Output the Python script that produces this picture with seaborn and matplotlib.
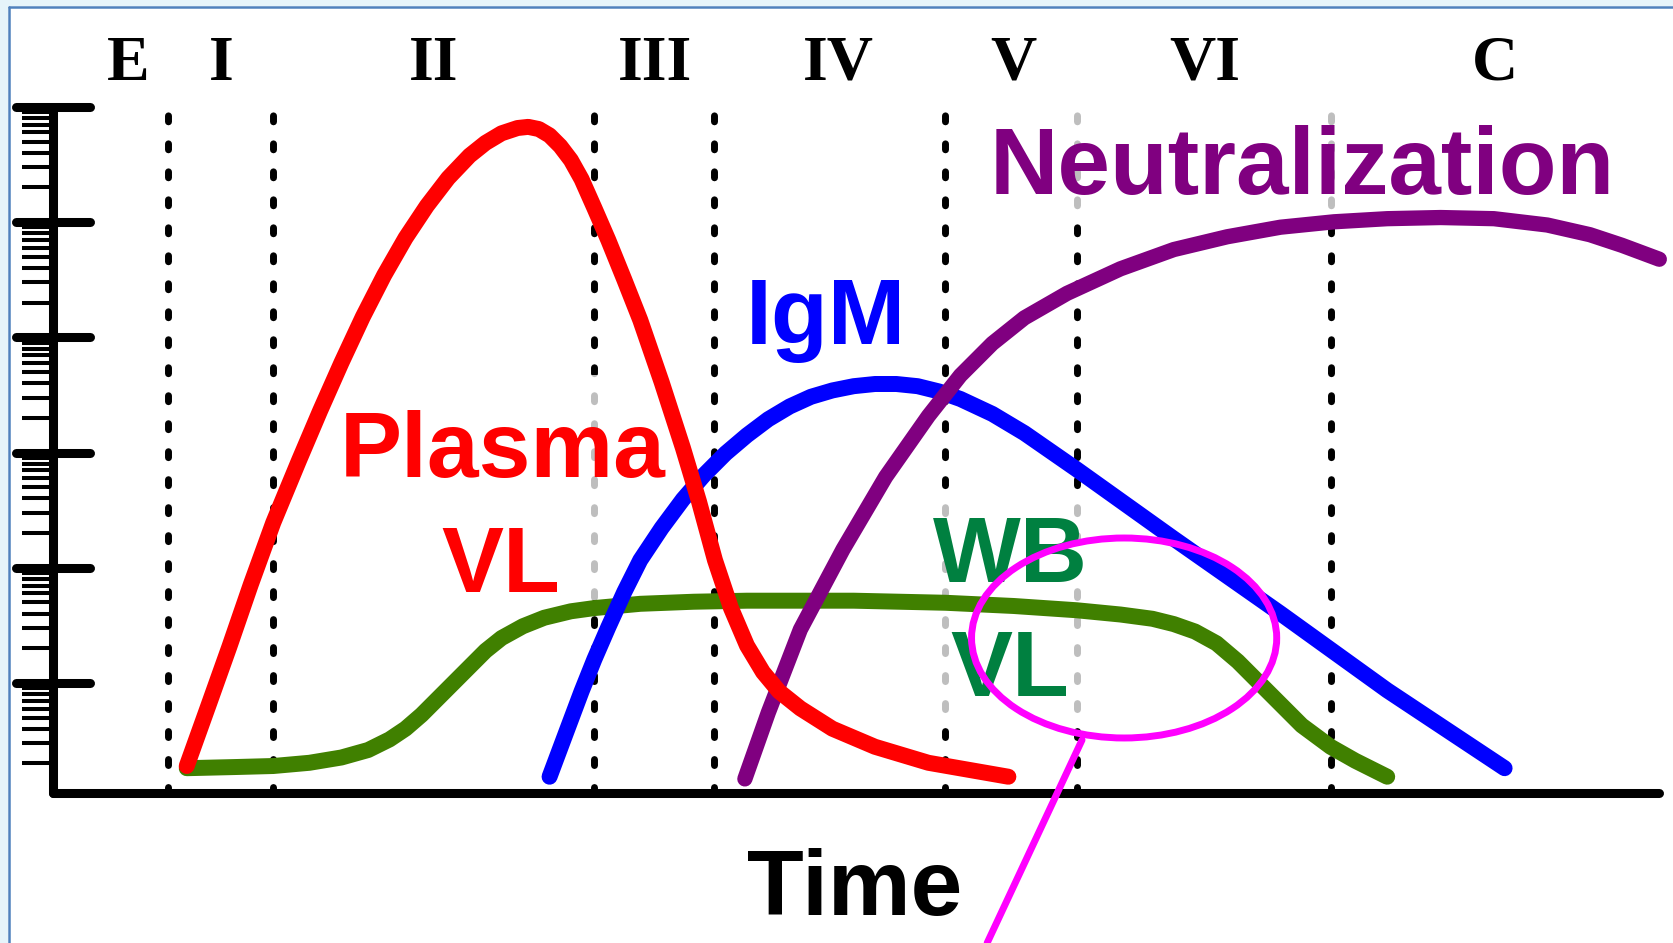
import numpy as np
import pandas as pd
import matplotlib
matplotlib.use("Agg")
import matplotlib.pyplot as plt
import seaborn as sns
from matplotlib.patches import Ellipse, Rectangle
from matplotlib.lines import Line2D
from matplotlib.ticker import LogLocator, NullFormatter
from matplotlib.markers import MarkerStyle
import matplotlib.transforms as mtransforms

# ---- marker kinetics over time (arbitrary time units, log10 of level) ----
plasma_t = [13.37, 15.51, 17.64, 19.77, 22.02, 24.58, 26.71, 28.84, 30.98, 33.11,
            35.25, 37.38, 39.51, 41.65, 43.25, 44.85, 46.45, 47.52, 48.58, 49.65,
            50.72, 51.78, 52.85, 54.13, 55.52, 57.12, 58.72, 60.85, 62.99, 64.59,
            66.19, 67.79, 69.39, 70.99, 72.59, 74.73, 77.93, 82.19, 87.53, 95.53]
plasma_log = [0.279, 0.797, 1.316, 1.853, 2.391, 2.928, 3.363, 3.780, 4.178, 4.539,
              4.863, 5.141, 5.382, 5.577, 5.688, 5.771, 5.817, 5.827, 5.808, 5.753,
              5.660, 5.539, 5.373, 5.123, 4.845, 4.502, 4.150, 3.613, 3.039, 2.576,
              2.066, 1.650, 1.325, 1.094, 0.927, 0.779, 0.603, 0.446, 0.307, 0.186]

igm_t = [49.65, 51.25, 52.85, 54.13, 55.52, 57.12, 58.72, 60.85, 62.99, 65.12,
         67.26, 69.39, 71.52, 73.66, 75.79, 77.93, 80.06, 82.19, 84.33, 86.46,
         88.60, 90.73, 93.93, 97.13, 102.36, 112.07, 122.74, 133.41, 145.15]
igm_log = [0.186, 0.557, 0.927, 1.205, 1.483, 1.789, 2.066, 2.344, 2.594, 2.807,
           2.993, 3.150, 3.289, 3.400, 3.484, 3.539, 3.576, 3.595, 3.595, 3.576,
           3.530, 3.465, 3.335, 3.169, 2.854, 2.252, 1.603, 0.936, 0.260]

neut_t = [69.18, 71.52, 74.73, 78.99, 83.26, 87.53, 90.73, 93.93, 97.13, 101.4,
          106.74, 112.07, 117.41, 122.74, 128.08, 133.41, 138.75, 144.08, 149.42,
          153.68, 156.88, 160.62]
neut_log = [0.167, 0.742, 1.464, 2.159, 2.789, 3.317, 3.669, 3.947, 4.169, 4.382,
            4.595, 4.762, 4.873, 4.956, 5.003, 5.030, 5.040, 5.030, 4.975,
            4.891, 4.799, 4.678]

wb_t = [13.37, 18.17, 22.02, 25.64, 28.84, 31.51, 33.65, 35.25, 36.85, 38.45,
        40.05, 41.65, 43.25, 44.85, 46.98, 49.12, 51.78, 54.13, 58.72, 64.06,
        69.39, 80.06, 89.24, 96.07, 102.36, 106.74, 109.94, 112.07, 114.20, 116.34,
        118.47, 120.61, 122.74, 124.87, 127.75, 130.21, 133.41]
wb_log = [0.260, 0.270, 0.279, 0.307, 0.353, 0.418, 0.510, 0.603, 0.723, 0.862,
          1.001, 1.140, 1.279, 1.390, 1.492, 1.566, 1.622, 1.650, 1.687, 1.705,
          1.714, 1.714, 1.696, 1.668, 1.631, 1.594, 1.557, 1.511, 1.446, 1.344,
          1.187, 1.001, 0.816, 0.631, 0.446, 0.325, 0.186]

# ---- infection stages ----
stage_names = ["E", "I", "II", "III", "IV", "V", "VI", "C"]
stage_label_t = [7.5, 16.8, 38.1, 60.2, 78.5, 96.0, 115.2, 144.2]
stage_bounds = [11.5, 22.0, 54.1, 66.1, 89.2, 102.4, 127.8]

series_colors = {"plasma": "#FF0000", "igm": "#0000FF",
                 "neut": "#800080", "wb": "#408000"}

sns.set_style("white")
plt.rcParams["font.family"] = ["Liberation Sans", "DejaVu Sans"]

fig = plt.figure(figsize=(16.73, 9.43), dpi=100)
fig.patch.set_facecolor("white")
ax = fig.add_axes([0.0317, 0.1591, 0.9600, 0.7275])
ax.set_facecolor("white")

ax.set_yscale("log")
ax.set_xlim(0, 160.6)
ax.set_ylim(10 ** 0.045, 10 ** 6)


def frame(t, logv, name):
    return pd.DataFrame({"time": t, "level": 10 ** np.asarray(logv), "marker": name})


line_kw = dict(solid_capstyle="round", solid_joinstyle="round", clip_on=False,
               legend=False, ax=ax, estimator=None, sort=False)
sns.lineplot(data=frame(wb_t, wb_log, "wb"), x="time", y="level",
             color=series_colors["wb"], linewidth=11.5, zorder=3.0, **line_kw)
sns.lineplot(data=frame(igm_t, igm_log, "igm"), x="time", y="level",
             color=series_colors["igm"], linewidth=11.5, zorder=3.1, **line_kw)
sns.lineplot(data=frame(neut_t, neut_log, "neut"), x="time", y="level",
             color=series_colors["neut"], linewidth=11.0, zorder=3.2, **line_kw)
sns.lineplot(data=frame(plasma_t, plasma_log, "plasma"), x="time", y="level",
             color=series_colors["plasma"], linewidth=11.5, zorder=3.3, **line_kw)

# stage boundaries
for xb in stage_bounds:
    ax.axvline(xb, color="black", lw=5, linestyle=(0, (0.86, 3.17)),
               dash_capstyle="round", zorder=1)

# translucent panels under the curve labels
for (x0, y0, w, h) in [(0.1725, 0.2813, 0.2148, 0.3280),
                       (0.5399, 0.0962, 0.1089, 0.3455),
                       (0.5741, 0.8499, 0.4078, 0.1676)]:
    ax.add_patch(Rectangle((x0, y0), w, h, transform=ax.transAxes,
                           facecolor="white", edgecolor="none", alpha=0.75,
                           zorder=2, clip_on=False))

# axes styling
for side in ("top", "right"):
    ax.spines[side].set_visible(False)
for side in ("left", "bottom"):
    ax.spines[side].set_linewidth(6.5)
    ax.spines[side].set_color("black")
    ax.spines[side].set_capstyle("round")
    ax.spines[side].set_zorder(4)

ax.set_xticks([])
ax.yaxis.set_major_locator(LogLocator(base=10, numticks=50))
ax.yaxis.set_minor_locator(LogLocator(base=10, subs=np.arange(2, 10), numticks=50))
ax.yaxis.set_major_formatter(NullFormatter())
ax.yaxis.set_minor_formatter(NullFormatter())
ax.tick_params(axis="y", which="major", direction="inout", length=53, width=6.5,
               color="black", left=True)
ax.tick_params(axis="y", which="minor", direction="out", length=22, width=2.9,
               color="black", left=True)
try:
    for tk in ax.yaxis.get_major_ticks():
        tk.tick1line.set_marker(MarkerStyle(tk.tick1line.get_marker(), capstyle="round"))
except Exception:
    pass
ax.set_ylabel("")
ax.set_xlabel("Time", fontsize=67, fontweight="bold", va="baseline", color="black")
ax.xaxis.set_label_coords(0.4994, -0.1778)

# stage labels above the plot
top_tf = mtransforms.blended_transform_factory(ax.transData, ax.transAxes)
for name, xt in zip(stage_names, stage_label_t):
    ax.text(xt, 1.0394, name, transform=top_tf, ha="center", va="baseline",
            fontsize=46, fontweight="bold", family=["Liberation Serif", "DejaVu Serif"],
            color="black", clip_on=False)

# curve labels
lab_kw = dict(ha="center", va="baseline", fontsize=67, fontweight="bold", zorder=5,
              clip_on=False)
ax.text(45.0, 10 ** 2.788, "Plasma", color="#FF0000", **lab_kw)
ax.text(44.8, 10 ** 1.790, "VL", color="#FF0000", **lab_kw)
ax.text(77.3, 10 ** 3.943, "IgM", color="#0000FF", **lab_kw)
ax.text(124.95, 10 ** 5.245, "Neutralization", color="#800080",
        **{**lab_kw, "fontsize": 68})
ax.text(95.7, 10 ** 1.877, "WB", color="#008040", **lab_kw)
ax.text(95.7, 10 ** 0.887, "VL", color="#008040", **lab_kw)

# highlight of the WB VL decline
ax.add_patch(Ellipse((0.6669, 0.2259), 0.19, 0.2915, transform=ax.transAxes,
                     facecolor="none", edgecolor="#FF00FF", lw=5, zorder=6,
                     clip_on=False))
ax.add_line(Line2D([0.6407, 0.5816], [0.0773, -0.2187], transform=ax.transAxes,
                   color="#FF00FF", lw=5, zorder=6, clip_on=False))

# window frame
fig.add_artist(Rectangle((0, 1 - 6 / 943), 1, 6 / 943, transform=fig.transFigure,
                         facecolor="#E6F4FA", edgecolor="none", zorder=0))
fig.add_artist(Rectangle((0, 0), 8 / 1673, 1, transform=fig.transFigure,
                         facecolor="#E6F4FA", edgecolor="none", zorder=0))
fig.add_artist(Line2D([8.5 / 1673, 1], [1 - 6.5 / 943] * 2, transform=fig.transFigure,
                      color="#4F81BD", lw=1.8))
fig.add_artist(Line2D([8.5 / 1673] * 2, [0, 1 - 6.5 / 943], transform=fig.transFigure,
                      color="#4F81BD", lw=1.8))

fig.savefig("out.png", dpi=100)
